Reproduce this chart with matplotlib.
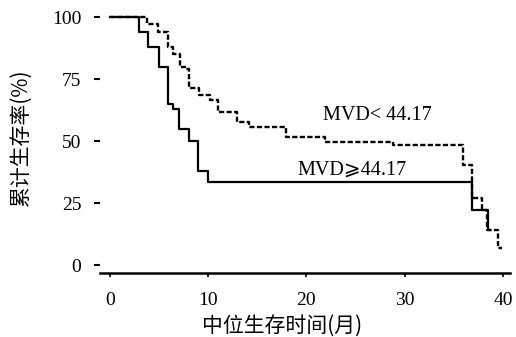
# Kurva survival Kaplan-Meier untuk dua kelompok MVD
import matplotlib.pyplot as plt

# Data kelompok MVD >= 44.17 (garis penuh)
t_high = [0, 2.95, 3.9, 5.0, 5.9, 6.4, 7.0, 8.0, 9.0, 10.0, 36.9, 38.5]
s_high = [100, 94, 88, 80, 65, 63, 55, 50, 38, 33.5, 22, 14]
end_high = 38.7

# Data kelompok MVD < 44.17 (garis putus-putus)
t_low = [0, 3.75, 4.9, 5.9, 6.4, 7.1, 7.6, 8.0, 9.05, 10.2, 11.0, 12.9, 14.2,
         17.9, 21.9, 28.8, 35.9, 36.9, 37.9, 38.4, 39.5]
s_low = [100, 97, 94, 88, 85, 80, 79, 71.5, 68.5, 66.5, 61.7, 57.7, 55.6,
         51.6, 49.6, 48.4, 40.3, 27, 22, 14, 7]
end_low = 39.9

x_ticks = [0, 10, 20, 30, 40]
y_ticks = [0, 25, 50, 75, 100]

plt.rcParams['font.family'] = ['Liberation Serif', 'DejaVu Sans', 'DejaVu Serif', 'Noto Sans CJK SC']
cjk = ['Noto Sans CJK SC', 'DejaVu Sans']

fig = plt.figure(figsize=(5.16, 3.37), dpi=100)
ax = fig.add_axes([0.194, 0.19, 0.794, 0.78])

ax.step(t_low + [end_low], s_low + [s_low[-1]], where='post',
        color='black', lw=1.7, linestyle=(0, (2.2, 1.0)))
ax.step(t_high + [end_high], s_high + [s_high[-1]], where='post',
        color='black', lw=1.6)

ax.text(21.7, 60.5, 'MVD< 44.17', fontsize=14.5, va='center')
ax.text(19.1, 38.5, 'MVD⩾44.17', fontsize=14.5, va='center')

ax.set_xlim(-1.0, 40.7)
ax.set_ylim(-3.2, 102.8)
ax.set_xticks(x_ticks)
ax.set_yticks(y_ticks)
ax.tick_params(axis='both', labelsize=14, direction='out')
ax.tick_params(axis='y', length=4.5, width=1.5, pad=9)
ax.tick_params(axis='x', length=3, width=1.2, pad=11)

for s in ['top', 'right', 'left']:
    ax.spines[s].set_visible(False)
ax.spines['bottom'].set_linewidth(1.8)

# Label sumbu ditempatkan manual seperti pada gambar asli
fig.text(0.547, 0.032, '中位生存时间(月)', family=cjk, fontsize=15,
         ha='center', va='center')
fig.text(0.04, 0.593, '累计生存率(%)', family=cjk, fontsize=15,
         ha='center', va='center', rotation=90)

fig.savefig('out.png', dpi=100)
